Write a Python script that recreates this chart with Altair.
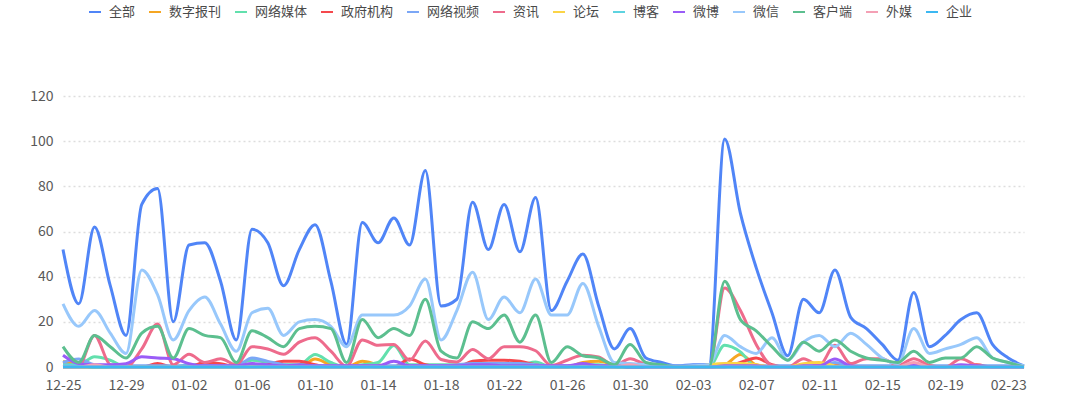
import altair as alt
import pandas as pd

dates = list(pd.date_range("2023-12-25", periods=62, freq="D").strftime("%m-%d"))
tick_dates = dates[::4]

series_names = ["全部", "数字报刊", "网络媒体", "政府机构", "网络视频", "资讯", "论坛",
                "博客", "微博", "微信", "客户端", "外媒", "企业"]
series_colors = ["#5085f7", "#f5a623", "#62e0ad", "#f5484d", "#7ba7f6", "#ee6b8c", "#fbd446",
                 "#5dd3e0", "#9a5cf7", "#98c8fb", "#5cbf8f", "#f4a0b5", "#3cb8f2"]

v_all = [52, 28, 62, 36, 14, 72, 79, 20, 54, 55, 38, 12, 61, 55, 36, 52, 63, 38, 10, 64,
         55, 66, 54, 87, 27, 30, 73, 52, 72, 51, 75, 25, 38, 50, 27, 8, 17, 4, 2, 0.5,
         1, 1, 101, 68, 44, 24, 5, 30, 24, 43, 22, 17, 10, 3, 33, 9, 14, 21, 24, 10,
         4, 0.5]
v_paper = [2.5, 1, 0, 0, 0, 0, 0, 0, 0, 0, 0, 0, 0, 0, 0, 0, 3.5, 1, 0, 2.5,
           1, 0, 0, 0, 0, 0, 0, 0, 0, 0, 0, 0, 0, 2, 2.5, 1, 0, 0, 0, 0,
           0, 0, 1, 5.5, 1, 0, 0, 0, 0, 0, 0, 0, 0, 0, 0, 0, 0, 0, 0, 0,
           0, 0]
v_web = [1, 1, 4.5, 3, 0, 0, 0, 0, 1, 1, 0, 1, 3, 2, 1, 1, 5.5, 2, 0, 1,
         2, 9.5, 1, 1, 1, 1, 1, 1, 1, 1, 2.2, 0, 0, 1, 1, 0, 0, 0, 0, 0,
         0, 0, 9.6, 6.7, 0, 0, 0, 0, 0, 0, 0, 0, 0, 0, 0, 0, 0, 0, 0, 0,
         0, 0]
v_gov = [0, 0, 0, 0, 0, 0, 1.5, 0, 0, 2, 1.5, 0, 0, 1, 2.5, 2.5, 1, 0, 0, 0.5,
         0, 0, 3.5, 1, 0, 0, 2.5, 3, 3, 2.5, 1, 0, 0, 1, 0, 0, 0, 0, 0, 0,
         0, 0, 0, 2, 4, 1, 0, 0, 0, 1, 0, 0, 0, 0, 1.5, 0, 0, 0, 1, 0,
         0, 0]
v_video = [2, 3.5, 1, 0.5, 0.5, 0.5, 0.5, 0.5, 0.5, 0.5, 0.5, 0.5, 4, 2.5, 1, 0.5, 0.5, 0.5, 0.5, 0.5,
           0.5, 0.5, 0.5, 0.5, 0.5, 1, 1.5, 1.5, 1.5, 1.5, 1, 0.5, 0.5, 0.5, 0.5, 0.5, 0.5, 0.5, 0.5, 0.5,
           0.5, 0.5, 0.5, 0.5, 0.5, 0.5, 0.5, 0.5, 0.5, 2, 0.5, 0.5, 0.5, 0.5, 0.5, 0.5, 0.5, 0.5, 0.5, 0.5,
           0.5, 0.5]
v_news = [1, 0.5, 14, 1, 0, 8, 19, 1, 5.6, 2, 3.7, 1, 9, 8, 5.6, 11, 13, 7, 0.3, 12,
          9.6, 10, 3, 11.5, 3.3, 2.2, 7.7, 3.7, 9, 9, 7.2, 0.7, 3, 5.2, 4.4, 0.7, 3.7, 1, 0, 0,
          0, 0, 35, 25, 10, 0.7, 0, 3.7, 0.7, 9.6, 1.5, 3.7, 3.7, 0.7, 3.7, 0.7, 0, 3.7, 0.7, 0,
          0, 0]
v_forum = [0, 0, 0, 0, 0, 0, 0, 0, 0, 0, 0, 0, 0, 0, 0, 0, 0, 0, 0, 0,
           0, 0, 0, 0, 0, 0, 0, 0, 0, 0, 0, 0, 0, 0, 0, 0, 0, 0, 0, 0,
           0, 1, 1.5, 1.5, 1, 0, 0, 1.5, 2, 0.5, 0, 0, 0, 0, 0, 0, 0, 0, 0, 0,
           0, 0]
v_blog = [1, 0.5, 0, 0, 0, 0, 0, 0, 0, 0, 0, 0, 0, 0, 0, 0, 0, 0, 0, 0,
          0, 0, 0, 0, 0, 0, 0, 0, 0, 0, 0, 0, 0, 0, 0, 0, 0, 0, 0, 0,
          0, 0, 0, 0, 0, 0, 0, 0, 0, 0, 0, 0, 0, 0, 0, 0, 0, 0, 0, 0,
          0, 0]
v_weibo = [5.2, 1.5, 1, 1, 1.5, 4.5, 4, 3.7, 1.5, 0.5, 0.5, 0.5, 1.5, 1, 0.5, 1, 0.5, 0.5, 0.5, 0.5,
           0.5, 2.5, 0.5, 0.5, 0.5, 0.5, 1, 1, 0.5, 0.5, 0.5, 0.5, 0.5, 1.5, 0.5, 0.5, 0, 0, 0, 0,
           0, 0, 0.5, 0.5, 0.5, 0, 0, 0.5, 0.5, 3.5, 0.5, 0, 0, 0, 1, 0, 0, 1, 0.5, 0,
           0, 0]
v_wechat = [28, 18, 25, 15, 6, 43, 32, 12, 25, 31, 19, 7, 24, 26, 14, 20, 21, 18, 9, 23,
            23, 23, 27, 39, 12, 25, 42, 21, 31, 24, 39, 23, 23, 37, 18, 2, 1.5, 1, 0.5, 0,
            0.5, 1, 14, 9, 6, 13, 3, 11, 14, 9, 15, 10, 4, 1.5, 17, 6, 8, 10, 13, 4,
            2, 0.5]
v_client = [9, 2, 14, 9, 4, 15, 18, 4, 17, 14, 13, 2, 16, 13, 9, 17, 18, 17, 2, 21,
            13, 17, 14, 30, 7, 4, 20, 17, 23, 11, 23, 2, 9, 5, 4, 1, 10, 2, 1, 0,
            0, 0, 38, 21, 16, 9, 3, 11, 7, 12, 7, 4, 3, 2, 7, 2, 4, 4, 9, 4,
            2, 0]
v_foreign = [0, 0, 1, 0, 0, 0, 0, 0, 0, 0, 0, 0, 0, 0, 0, 0, 0, 0, 0, 0,
             0, 0, 0, 0, 0, 0, 0, 0, 0, 0, 0, 0, 0, 0, 0, 0, 1, 0, 0, 0,
             0, 0, 0, 0, 0, 0, 0, 0, 0, 0, 0, 0, 0, 0, 2, 0, 0, 0, 0, 0,
             0, 0]
v_company = [0] * 62

all_values = [v_all, v_paper, v_web, v_gov, v_video, v_news, v_forum,
              v_blog, v_weibo, v_wechat, v_client, v_foreign, v_company]

rows = []
for name, vals in zip(series_names, all_values):
    for d, v in zip(dates, vals):
        rows.append({"date": d, "value": v, "series": name})
df = pd.DataFrame(rows)

FONT = "Noto Sans CJK SC"

chart = alt.Chart(df).mark_line(interpolate="monotone", strokeWidth=3).encode(
    x=alt.X("date:O", sort=dates, title=None,
            scale=alt.Scale(type="point", padding=0),
            axis=alt.Axis(values=tick_dates, labelAngle=0, domain=False, ticks=False,
                          labelPadding=11, labelFontSize=14, labelColor="#595959",
                          labelFont=FONT, grid=False)),
    y=alt.Y("value:Q", title=None,
            scale=alt.Scale(domain=[0, 120], nice=False),
            axis=alt.Axis(values=[0, 20, 40, 60, 80, 100, 120], domain=False, ticks=False,
                          labelPadding=10, labelFontSize=14, labelColor="#595959",
                          labelFont=FONT, grid=True, gridColor="#dddddd",
                          gridDash=[2, 3], gridWidth=1.5)),
    color=alt.Color("series:N", sort=series_names,
                    scale=alt.Scale(domain=series_names, range=series_colors),
                    legend=alt.Legend(orient="none", legendX=25, legendY=-91,
                                      direction="horizontal", columns=13, title=None,
                                      symbolType="stroke", symbolSize=144,
                                      symbolStrokeWidth=2, labelFontSize=13,
                                      labelFont=FONT, labelColor="#4a4a4a",
                                      labelOffset=7, columnPadding=9)),
).properties(
    width=961, height=271,
    autosize=alt.AutoSizeParams(type="none"),
    padding={"left": 63, "top": 96, "right": 56, "bottom": 53},
).configure_view(stroke=None)

chart.save("out.html", embed_options={"renderer": "svg", "actions": False})
